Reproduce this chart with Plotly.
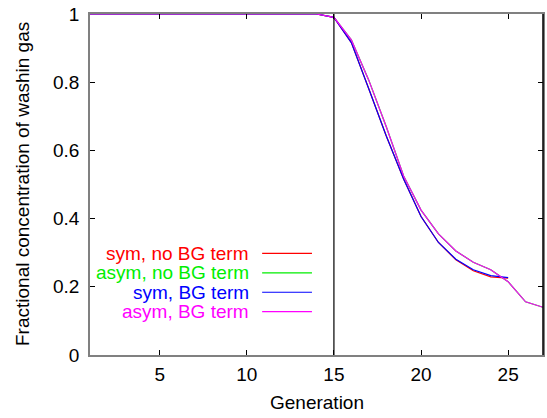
import plotly.graph_objects as go

# Data
gen_sym = list(range(1, 26))
gen_asym = list(range(1, 28))

sym_no_bg = [1.0] * 14 + [0.990, 0.916, 0.781, 0.643, 0.516, 0.406, 0.330, 0.279, 0.247, 0.229, 0.225]
asym_no_bg = [1.0] * 14 + [0.990, 0.924, 0.806, 0.670, 0.525, 0.425, 0.355, 0.305, 0.272, 0.250, 0.215, 0.156, 0.140]
sym_bg = [1.0] * 14 + [0.990, 0.916, 0.781, 0.643, 0.516, 0.406, 0.330, 0.281, 0.250, 0.233, 0.227]
asym_bg = [1.0] * 14 + [0.990, 0.924, 0.806, 0.670, 0.525, 0.425, 0.355, 0.305, 0.272, 0.250, 0.215, 0.156, 0.140]

series_names = ["sym, no BG term", "asym, no BG term", "sym, BG term", "asym, BG term"]
series_colors = ["#ff0000", "#00ee00", "#0000ff", "#ff00ff"]
series_x = [gen_sym, gen_asym, gen_sym, gen_asym]
series_y = [sym_no_bg, asym_no_bg, sym_bg, asym_bg]

washin_start = 15
x_range = [1, 27]
y_ticks = [0, 0.2, 0.4, 0.6, 0.8, 1]
x_ticks = [5, 10, 15, 20, 25]
x_title = "Generation"
y_title = "Fractional concentration of washin gas"

FONT = "Liberation Sans, Arial, sans-serif"
FS = 19

fig = go.Figure()
for name, col, xs, ys in zip(series_names, series_colors, series_x, series_y):
    fig.add_trace(go.Scatter(x=xs, y=ys, mode="lines", name=name,
                             line=dict(color=col, width=1.2), showlegend=False))

fig.add_vline(x=washin_start, line=dict(color="black", width=1.2))

# Custom legend: right-aligned coloured text with line sample on the right
legend_y = [0.298, 0.241, 0.184, 0.127]
for name, col, ly in zip(series_names, series_colors, legend_y):
    fig.add_annotation(x=0.355, y=ly, xref="paper", yref="paper", text=name,
                       showarrow=False, xanchor="right", yanchor="middle",
                       font=dict(family=FONT, size=FS, color=col))
    fig.add_shape(type="line", xref="paper", yref="paper", x0=0.380, x1=0.490,
                  y0=ly, y1=ly, line=dict(color=col, width=1.2))

# axis titles
fig.add_annotation(x=0.5, y=-0.138, xref="paper", yref="paper", text=x_title,
                   showarrow=False, xanchor="center", yanchor="middle",
                   font=dict(family=FONT, size=FS))
fig.add_annotation(x=-0.149, y=0.5, xref="paper", yref="paper", text=y_title,
                   showarrow=False, xanchor="center", yanchor="middle", textangle=-90,
                   font=dict(family=FONT, size=FS))

# right border black
fig.add_shape(type="line", xref="paper", yref="paper", x0=1, x1=1, y0=0, y1=1,
              line=dict(color="black", width=1.5))

fig.update_layout(
    width=547, height=418,
    margin=dict(l=90, r=2, t=14, b=63),
    paper_bgcolor="white", plot_bgcolor="white",
    font=dict(family=FONT, size=FS, color="black"),
    xaxis=dict(range=x_range, tickvals=x_ticks, ticks="inside", ticklen=5,
               tickcolor="black", showline=True, linecolor="#808080", linewidth=1.5,
               mirror="ticks", showgrid=False, zeroline=False, ticklabelstandoff=1),
    yaxis=dict(range=[0, 1], tickvals=y_ticks, ticks="inside", ticklen=5,
               tickcolor="black", showline=True, linecolor="#808080", linewidth=1.5,
               mirror="ticks", showgrid=False, zeroline=False, ticklabelstandoff=5),
)

fig.write_html("out.html")
